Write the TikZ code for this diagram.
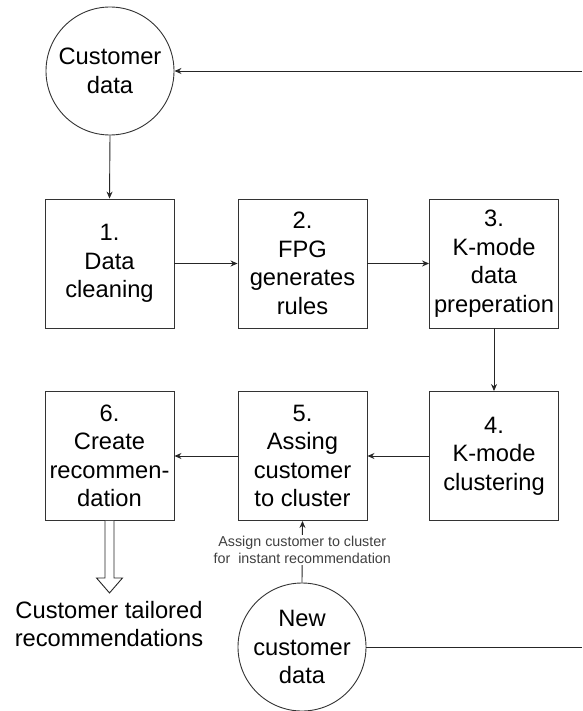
\documentclass[tikz,border=0pt]{standalone}
\usepackage{fontspec}
\setmainfont{Liberation Sans}
\usetikzlibrary{arrows.meta,calc}
\begin{document}
\begin{tikzpicture}[x=1pt,y=-1pt,
 every node/.style={font=\fontsize{23.7}{28.5}\selectfont},
 stepbox/.style={draw=black!80, line width=0.9pt, minimum width=129pt, minimum height=129pt, inner sep=0pt, align=center},
 datacirc/.style={draw=black!80, line width=0.9pt, circle, minimum size=128pt, inner sep=0pt, align=center},
 conn/.style={draw=black!85, line width=0.9pt},
 arr/.style={conn, -{Stealth[length=7pt,width=6pt]}},
 lbl/.style={font=\fontsize{14.3}{17}\selectfont, text=black!75, fill=white, align=center, inner sep=1pt}
]
\useasboundingbox (0,0) rectangle (582,711);

\node[datacirc] (c1) at (110,71) {Customer\\data};
\node[stepbox] (b1) at (109.5,263.5) {1.\\Data\\cleaning};
\node[stepbox] (b2) at (302.5,263.5) {2.\\FPG\\generates\\rules};
\node[stepbox] (b3) at (494,263.5) {3.\\K-mode\\data\\preperation};
\node[stepbox] (b6) at (109.5,456) {6.\\Create\\recommen-\\dation};
\node[stepbox] (b5) at (302.5,456) {5.\\Assing\\customer\\to cluster};
\node[stepbox] (b4) at (494,456) {4.\\K-mode\\clustering};
\node[datacirc] (c2) at (302,647) {New\\customer\\data};

\coordinate (e1) at (582,71);
\coordinate (e2) at (582,647);

\draw[arr] (e1) -- (c1.east);
\draw[arr] (c1.south) -- (b1.north);
\draw[arr] (b1.east) -- (b2.west);
\draw[arr] (b2.east) -- (b3.west);
\draw[arr] (b3.south) -- (b4.north);
\draw[arr] (b4.west) -- (b5.east);
\draw[arr] (b5.west) -- (b6.east);
\draw[arr] (c2.north) -- node[lbl, yshift=2pt] {Assign customer to cluster\\for\ \ instant recommendation} (b5.south);
\draw[conn] (c2.east) -- (e2);

\draw[conn, fill=white] ($(b6.south)+(-4.5,0)$) -- ($(b6.south)+(-4.5,57)$) -- ($(b6.south)+(-13,57)$) -- ($(b6.south)+(0,72)$) -- ($(b6.south)+(13,57)$) -- ($(b6.south)+(4.5,57)$) -- ($(b6.south)+(4.5,0)$);
\node[align=center] (out) at (109,624) {Customer tailored\\recommendations};
\end{tikzpicture}
\end{document}
